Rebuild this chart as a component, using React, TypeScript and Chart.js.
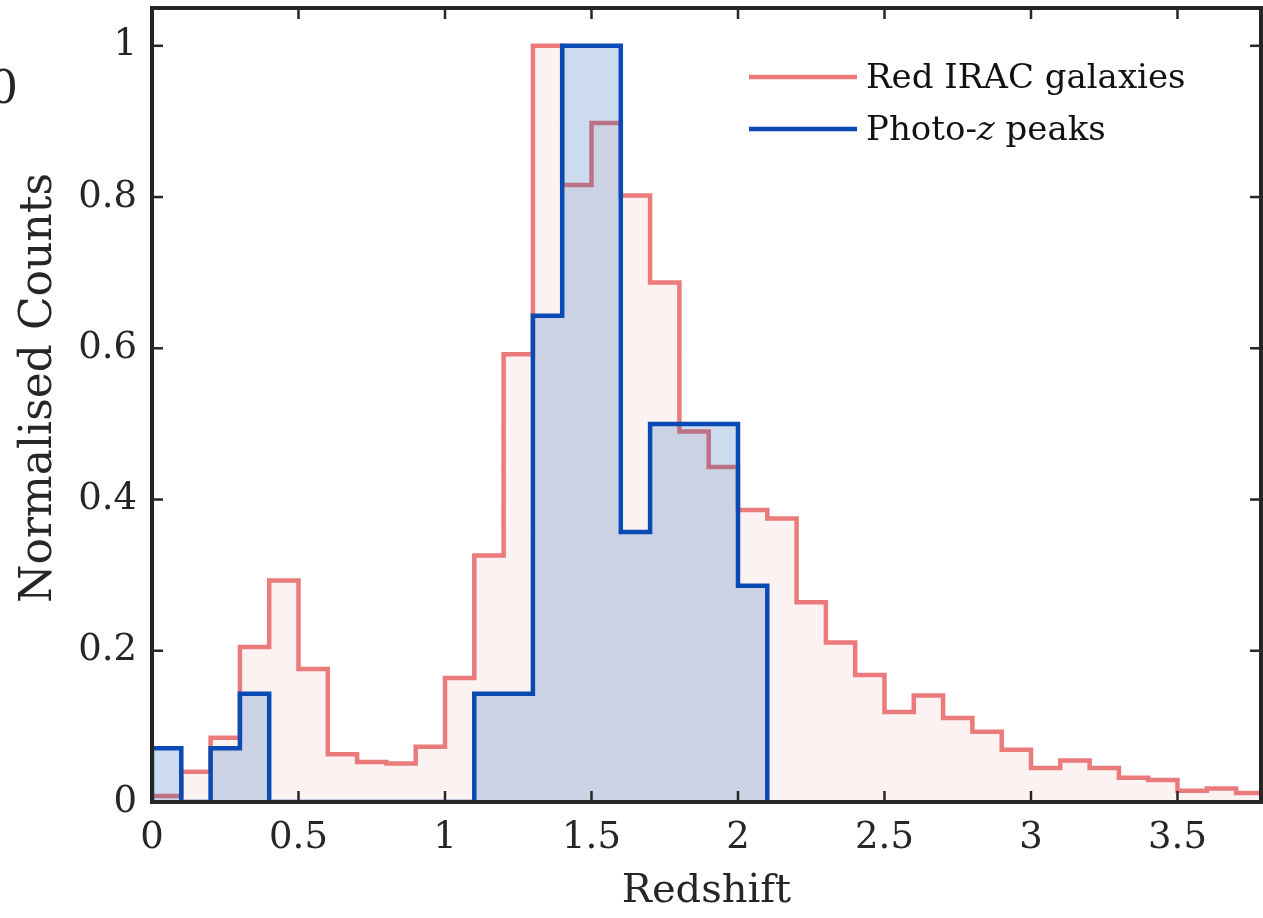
import React, { useEffect, useRef } from 'react';
import { Chart, registerables } from 'chart.js';

Chart.register(...registerables);

// Bin edges (width 0.1) of the redshift histograms
const binEdges = [
  0.0, 0.1, 0.2, 0.3, 0.4, 0.5, 0.6, 0.7, 0.8, 0.9,
  1.0, 1.1, 1.2, 1.3, 1.4, 1.5, 1.6, 1.7, 1.8, 1.9,
  2.0, 2.1, 2.2, 2.3, 2.4, 2.5, 2.6, 2.7, 2.8, 2.9,
  3.0, 3.1, 3.2, 3.3, 3.4, 3.5, 3.6, 3.7, 3.8,
];

// Normalised counts per bin: Red IRAC galaxies
const redValues = [
  0.008, 0.040, 0.085, 0.205, 0.293, 0.176, 0.063, 0.053, 0.051, 0.073,
  0.164, 0.326, 0.592, 1.000, 0.816, 0.898, 0.802, 0.687, 0.490, 0.443,
  0.386, 0.375, 0.264, 0.211, 0.168, 0.119, 0.141, 0.111, 0.093, 0.069,
  0.045, 0.055, 0.045, 0.032, 0.029, 0.015, 0.018, 0.012,
];

// Normalised counts per bin: Photo-z peaks
const blueValues = [
  0.071, 0.0, 0.071, 0.143, 0.0, 0.0, 0.0, 0.0, 0.0, 0.0,
  0.0, 0.143, 0.143, 0.643, 1.0, 1.0, 0.357, 0.5, 0.5, 0.5,
  0.286,
];

const xTicks = [0, 0.5, 1, 1.5, 2, 2.5, 3, 3.5];
const yTicks = [0, 0.2, 0.4, 0.6, 0.8, 1];
const xMax = 3.785;
const yMax = 1.05;

const legendLabels = ['Red IRAC galaxies', 'Photo-z peaks'];
const xTitle = 'Redshift';
const yTitle = 'Normalised Counts';

const RED = '#eb7b7b';
const BLUE = '#0a4ab4';
const AXIS = '#262626';
const FONT = '"DejaVu Serif", serif';

function stairs(values: number[], edges: number[]) {
  const pts: { x: number; y: number }[] = [{ x: edges[0], y: 0 }];
  values.forEach((v, i) => pts.push({ x: edges[i], y: v }));
  const n = values.length;
  pts.push({ x: edges[n], y: values[n - 1] });
  pts.push({ x: edges[n], y: 0 });
  return pts;
}

const fmt = (v: number) => String(+Number(v).toFixed(2));

const framePlugin = {
  id: 'matlabFrame',
  afterDatasetsDraw(chart: any) {
    const { ctx, chartArea: a, scales } = chart;
    const sx = scales.x;
    const sy = scales.y;
    ctx.save();
    ctx.strokeStyle = AXIS;
    ctx.lineWidth = 2.5;
    const L = 11;
    const seg = (x1: number, y1: number, x2: number, y2: number) => {
      ctx.beginPath();
      ctx.moveTo(x1, y1);
      ctx.lineTo(x2, y2);
      ctx.stroke();
    };
    sx.ticks.forEach((t: any) => {
      const px = sx.getPixelForValue(t.value);
      seg(px, a.bottom, px, a.bottom - L);
      seg(px, a.top, px, a.top + L);
    });
    sy.ticks.forEach((t: any) => {
      const py = sy.getPixelForValue(t.value);
      seg(a.left, py, a.left + L, py);
      seg(a.right, py, a.right - L, py);
    });
    ctx.lineWidth = 4;
    ctx.strokeRect(a.left, a.top, a.right - a.left, a.bottom - a.top);

    // Legend
    const lx1 = 749;
    const lx2 = 857;
    const tx = 866;
    const rows = [
      { color: RED, y: 77 },
      { color: BLUE, y: 129 },
    ];
    ctx.lineWidth = 4.5;
    rows.forEach((r) => {
      ctx.strokeStyle = r.color;
      seg(lx1, r.y, lx2, r.y);
    });
    const LF = 34;
    ctx.fillStyle = '#111111';
    ctx.textBaseline = 'alphabetic';
    ctx.textAlign = 'left';
    ctx.font = `${LF}px ${FONT}`;
    ctx.fillText(legendLabels[0], tx, rows[0].y + 11);
    // "Photo-z peaks" with italic z
    const parts = legendLabels[1].split('z');
    let cx = tx;
    ctx.font = `${LF}px ${FONT}`;
    ctx.fillText(parts[0], cx, rows[1].y + 11);
    cx += ctx.measureText(parts[0]).width;
    ctx.font = `italic ${LF}px ${FONT}`;
    ctx.fillText('z', cx, rows[1].y + 11);
    cx += ctx.measureText('z').width;
    ctx.font = `${LF}px ${FONT}`;
    ctx.fillText(parts[1], cx, rows[1].y + 11);

    // Y axis title
    ctx.save();
    ctx.translate(40, 388);
    ctx.rotate(-Math.PI / 2);
    ctx.textAlign = 'center';
    ctx.textBaseline = 'middle';
    ctx.fillStyle = AXIS;
    ctx.font = `44px ${FONT}`;
    ctx.fillText(yTitle, 0, 0);
    ctx.restore();

    // Clipped tick label of a neighbouring panel at the far left edge
    ctx.font = `46px ${FONT}`;
    ctx.textAlign = 'right';
    ctx.textBaseline = 'alphabetic';
    ctx.fillStyle = AXIS;
    ctx.fillText('0', 18, 103);
    ctx.restore();
  },
};

export default function App() {
  const ref = useRef<HTMLCanvasElement | null>(null);
  useEffect(() => {
    if (!ref.current) return;
    const chart = new Chart(ref.current, {
      type: 'line',
      data: {
        datasets: [
          {
            label: legendLabels[1],
            data: stairs(blueValues, binEdges),
            stepped: 'before',
            borderColor: BLUE,
            borderWidth: 4.5,
            backgroundColor: 'rgba(0,80,170,0.2)',
            fill: 'origin',
            pointRadius: 0,
            borderJoinStyle: 'miter',
            order: 0,
          },
          {
            label: legendLabels[0],
            data: stairs(redValues, binEdges),
            stepped: 'before',
            borderColor: RED,
            borderWidth: 4.5,
            backgroundColor: 'rgba(236,123,123,0.1)',
            fill: 'origin',
            pointRadius: 0,
            borderJoinStyle: 'miter',
            order: 1,
          },
        ],
      },
      options: {
        responsive: false,
        animation: false,
        devicePixelRatio: 1,
        layout: { padding: { top: 8, right: 2, left: 0, bottom: 0 } },
        plugins: { legend: { display: false }, tooltip: { enabled: false } },
        scales: {
          x: {
            type: 'linear',
            min: 0,
            max: xMax,
            grid: { display: false, drawTicks: false },
            border: { display: false },
            afterBuildTicks: (s: any) => {
              s.ticks = xTicks.map((v) => ({ value: v }));
            },
            ticks: {
              color: AXIS,
              padding: 14,
              maxRotation: 0,
              autoSkip: false,
              font: { family: FONT, size: 37 },
              callback: (v: any) => fmt(v),
            },
            title: {
              display: true,
              text: xTitle,
              color: AXIS,
              font: { family: FONT, size: 40 },
              padding: { top: 0, bottom: 2 },
            },
            afterFit: (s: any) => {
              s.height = 116;
              s.paddingLeft = 0;
              s.paddingRight = 0;
            },
          },
          y: {
            min: 0,
            max: yMax,
            grid: { display: false, drawTicks: false },
            border: { display: false },
            afterBuildTicks: (s: any) => {
              s.ticks = yTicks.map((v) => ({ value: v }));
            },
            ticks: {
              color: AXIS,
              padding: 15,
              autoSkip: false,
              font: { family: FONT, size: 37 },
              callback: (v: any) => fmt(v),
            },
            title: { display: false },
            afterFit: (s: any) => {
              s.width = 152;
              s.paddingTop = 0;
              s.paddingBottom = 0;
            },
          },
        },
      },
      plugins: [framePlugin],
    });
    return () => chart.destroy();
  }, []);

  return (
    <div style={{ position: 'absolute', left: 0, top: 0, width: 1263, height: 918, background: '#fff' }}>
      <canvas ref={ref} width={1263} height={918} style={{ display: 'block', width: 1263, height: 918 }} />
    </div>
  );
}
